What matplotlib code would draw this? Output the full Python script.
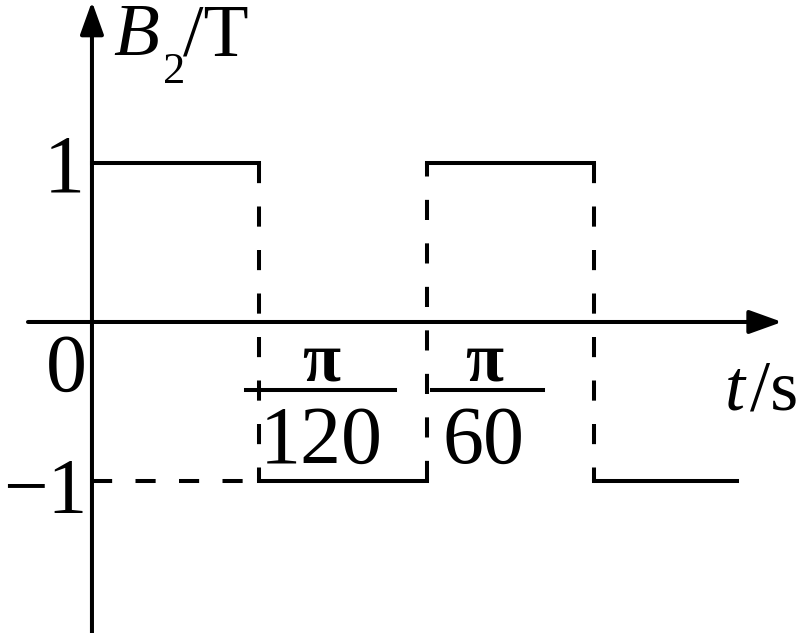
import matplotlib
matplotlib.use("Agg")
import matplotlib.pyplot as plt

# square wave B2 (T) vs t, t measured in units of pi/120 s
t_edges = [0, 1, 2, 3, 3.85]
levels = [1, -1, 1, -1]
tick_t = [1, 2]
tick_num = ["π", "π"]
tick_den = ["120", "60"]

plt.rcParams["font.family"] = ["Liberation Serif", "DejaVu Serif"]

fig = plt.figure(figsize=(8.02, 6.33), dpi=100)
ax = fig.add_axes([0, 0, 1, 1])
ax.set_xlim(-0.549, 4.239)
ax.set_ylim(-1.956, 2.025)
ax.axis("off")

lw = 2.9
dash = (5, 5.8)
arrow = dict(arrowstyle="-|>,head_length=1.0,head_width=0.36",
             lw=lw, color="black", shrinkA=0, shrinkB=0, mutation_scale=20)

# axes with arrows
ax.annotate("", xy=(4.12, 0), xytext=(-0.382, 0), arrowprops=arrow)
ax.annotate("", xy=(0, 2.015), xytext=(0, -1.96), arrowprops=arrow)

# solid levels
for i, lev in enumerate(levels):
    ax.plot([t_edges[i], t_edges[i + 1]], [lev, lev], color="black", lw=lw,
            solid_capstyle="projecting")

# dashed transitions
for i in range(1, len(levels)):
    ax.plot([t_edges[i], t_edges[i]], [levels[i - 1], levels[i]], color="black",
            lw=lw, dashes=dash)

# dashed guide for -1
ax.plot([0, t_edges[1]], [-1, -1], color="black", lw=lw, dashes=dash)

# y tick labels
ax.text(-0.045, 0.818, "1", fontsize=59, ha="right", va="baseline")
ax.text(-0.03, -1.195, "−1", fontsize=57, ha="right", va="baseline")
ax.text(-0.03, -0.434, "0", fontsize=59, ha="right", va="baseline")

# t tick labels as fractions
bars = [(0.919, 1.809), (2.03, 2.693)]
for t, num, den, (b0, b1) in zip(tick_t, tick_num, tick_den, bars):
    xc = t + 0.37 if den == "120" else t + 0.34
    ax.text(xc, -0.365, num, fontsize=50, fontweight="bold", ha="center", va="baseline")
    ax.plot([b0, b1], [-0.428, -0.428], color="black", lw=lw)
    ax.text(xc, -0.887, den, fontsize=59, ha="center", va="baseline")

# axis labels
ax.text(0.13, 2.025 - 55 / 159, "B", fontsize=54, style="italic", ha="left", va="baseline")
ax.text(0.425, 2.025 - 83 / 159, "2", fontsize=32, ha="left", va="baseline")
ax.text(0.545, 2.025 - 55 / 159, "/T", fontsize=53, ha="left", va="baseline")
ax.text(3.78, -0.553, "t", fontsize=52, style="italic", ha="left", va="baseline")
ax.text(3.93, -0.553, "/s", fontsize=52, ha="left", va="baseline")

fig.savefig("out.png", dpi=100)
